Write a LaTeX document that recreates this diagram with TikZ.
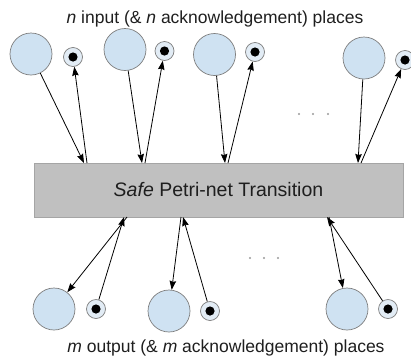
\documentclass[tikz,border=0pt]{standalone}
\usepackage{fontspec}
\setmainfont{Liberation Sans}
\usetikzlibrary{arrows.meta}
\definecolor{placeblue}{RGB}{207,226,242}
\definecolor{ackblue}{RGB}{226,236,245}
\definecolor{edgegray}{RGB}{125,125,125}
\definecolor{boxgray}{RGB}{192,192,192}
\definecolor{boxedge}{RGB}{165,165,165}
\definecolor{txt}{RGB}{30,30,30}
\begin{document}
\begin{tikzpicture}[x=1pt,y=-1pt,
  bigplace/.style={circle, draw=edgegray, line width=0.7pt, fill=placeblue, minimum size=42pt, inner sep=0pt},
  ackplace/.style={circle, draw=edgegray, line width=0.7pt, fill=ackblue, minimum size=19pt, inner sep=0pt},
  arr/.style={line width=0.8pt, -{Stealth[length=9pt,width=6.5pt,inset=1pt]}},
  lbl/.style={anchor=base, text=txt, font=\fontsize{17.5}{20}\selectfont, inner sep=0pt},
  dotmark/.style={fill=gray!80}
]
\useasboundingbox (0,0) rectangle (411,362);

% labels
\node[lbl] (topl) at (215,23) {\textit{n} input (\& \textit{n} acknowledgement) places};
\node[lbl] (botl) at (226,352) {\textit{m} output (\& \textit{m} acknowledgement) places};

% transition
\node[draw=boxedge, line width=0.7pt, fill=boxgray, minimum width=369pt, minimum height=54pt, inner sep=0pt,
      text=txt, font=\fontsize{19.5}{22}\selectfont] (T) at (218.5,190) {\textit{Safe} Petri-net Transition};

% top places
\node[bigplace] (A1) at (31,54) {};
\node[bigplace] (A2) at (125,49.5) {};
\node[bigplace] (A3) at (214.5,54.5) {};
\node[bigplace] (A4) at (364,58) {};
\node[ackplace] (a1) at (73,57) {};
\node[ackplace] (a2) at (164.5,51) {};
\node[ackplace] (a3) at (255,52) {};
\node[ackplace] (a4) at (405,60) {};

% bottom places
\node[bigplace] (B1) at (54,309) {};
\node[bigplace] (B2) at (169,311) {};
\node[bigplace] (B3) at (347,309) {};
\node[ackplace] (b1) at (96,309) {};
\node[ackplace] (b2) at (210,311) {};
\node[ackplace] (b3) at (388,309) {};

% tokens
\foreach \p in {a1,a2,a3,a4,b1,b2,b3} {\fill (\p) circle (4.6pt);}

% attachment points on the transition
\coordinate (ti1) at (84,163);  \coordinate (to1) at (87,163);
\coordinate (ti2) at (142,163); \coordinate (to2) at (145,163);
\coordinate (ti3) at (225,163); \coordinate (to3) at (228,163);
\coordinate (ti4) at (358,163); \coordinate (to4) at (361,163);
\coordinate (bo1) at (127,217); \coordinate (bi1) at (124,217);
\coordinate (bo2) at (181,217); \coordinate (bi2) at (183,217);
\coordinate (bo3) at (329,217); \coordinate (bi3) at (327,217);

% top arcs
\draw[arr] (A1) -- (ti1);
\draw[arr] (to1) -- (a1);
\draw[arr] (A2) -- (ti2);
\draw[arr] (to2) -- (a2);
\draw[arr] (A3) -- (ti3);
\draw[arr] (to3) -- (a3);
\draw[arr] (A4) -- (ti4);
\draw[arr] (to4) -- (a4);

% bottom arcs
\draw[arr] (bo1) -- (B1);
\draw[arr] (b1) -- (bi1);
\draw[arr] (bo2) -- (B2);
\draw[arr] (b2) -- (bi2);
\draw[arr] (bo3) -- (B3);
\draw[arr] (b3) -- (bi3);

% ellipses
\foreach \x in {299,313,328} {\fill[dotmark] (\x,114) circle (1.1pt);}
\foreach \x in {250,264,278} {\fill[dotmark] (\x,258) circle (1.1pt);}
\end{tikzpicture}
\end{document}
